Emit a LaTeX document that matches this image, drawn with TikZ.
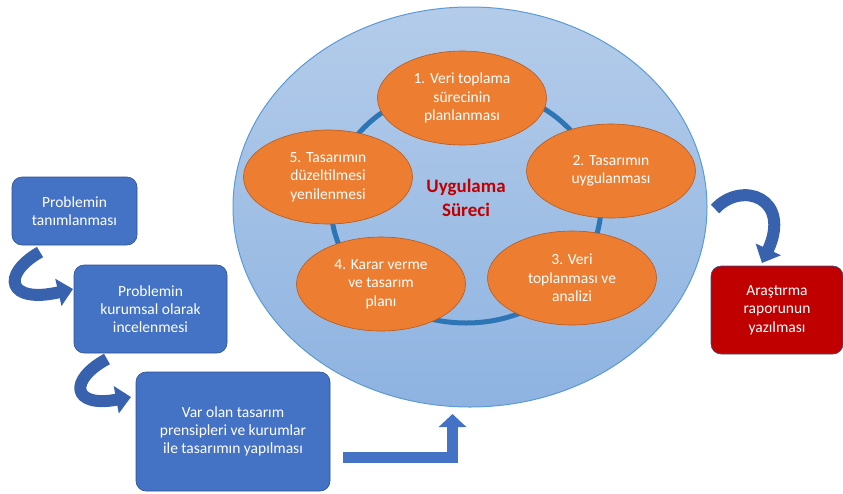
\documentclass[tikz,border=0pt]{standalone}
\usepackage{fontspec}
\setmainfont{Carlito}
\usetikzlibrary{arrows.meta,shapes.geometric,positioning}
\definecolor{boxblue}{HTML}{4472C4}
\definecolor{boxedge}{HTML}{2F528F}
\definecolor{arrblue}{HTML}{3862AE}
\definecolor{ringblue}{HTML}{2E75B6}
\definecolor{circtop}{HTML}{B4CCEA}
\definecolor{circbot}{HTML}{8EB3E1}
\definecolor{circedge}{HTML}{5B9BD5}
\definecolor{stepfill}{HTML}{ED7D31}
\definecolor{stepedge}{HTML}{B85A1C}
\definecolor{reportred}{HTML}{C00000}
\tikzset{
    txt/.style={font=\fontsize{15.5}{18.3}\selectfont, text=white, align=center},
    bluebox/.style={txt, rectangle, rounded corners=10pt, fill=boxblue, draw=boxedge, line width=.6pt},
    redbox/.style={txt, rectangle, rounded corners=10pt, fill=reportred, draw=boxedge, line width=.6pt},
    stepnode/.style={txt, ellipse, inner sep=0pt, minimum width=169pt, minimum height=94pt,
        fill=stepfill, draw=stepedge, line width=.6pt},
    bigcirc/.style={ellipse, inner sep=0pt, minimum width=474pt, minimum height=400pt,
        top color=circtop, bottom color=circbot, draw=circedge, line width=1pt},
    ring/.style={draw=ringblue, line width=5pt},
    curvearrow/.style={draw=arrblue, line width=12pt, -{Triangle[length=15pt,width=27pt]}},
    bentarrow/.style={draw=boxblue, line width=11pt, line join=miter, -{Triangle[length=13pt,width=27pt]}},
}
\begin{document}
\begin{tikzpicture}[x=1pt, y=-1pt]
    \useasboundingbox (0,0) rectangle (843,493);
    % process circle
    \node[bigcirc] (proc) at (470,207) {};
    \draw[ring] (466,205) ellipse (135 and 118);
    \node[font=\fontsize{19}{23.5}\selectfont\bfseries, text=reportred, align=center] (title) at (466,198) {Uygulama\\Süreci};
    \node[stepnode] (s1) at (462,98) {1. Veri toplama\\sürecinin\\planlanması};
    \node[stepnode] (s2) at (611,171) {2. Tasarımın\\uygulanması};
    \node[stepnode] (s3) at (572,278) {3. Veri\\toplanması ve\\analizi};
    \node[stepnode] (s4) at (381,284) {4. Karar verme\\ve tasarım\\planı};
    \node[stepnode] (s5) at (328,177) {5. Tasarımın\\düzeltilmesi\\yenilenmesi};

    % left side
    \node[bluebox, minimum width=125pt, minimum height=68pt] (p1) at (74.5,211) {Problemin\\tanımlanması};
    \node[bluebox, minimum width=153pt, minimum height=88pt] (p2) at (150.5,309) {Problemin\\kurumsal olarak\\incelenmesi};
    \node[bluebox, minimum width=194pt, minimum height=119pt] (p3) at (233,431.5) {Var olan tasarım\\prensipleri ve kurumlar\\ile tasarımın yapılması};
    \node[redbox, minimum width=132pt, minimum height=88pt] (rep) at (777,310) {Araştırma\\raporunun\\yazılması};

    % arrows
    \coordinate (a1s) at (40,252);
    \coordinate (a1e) at (73,289);
    \coordinate (a2s) at (107,359);
    \coordinate (a2e) at (131,397);
    \coordinate (a3s) at (715,209);
    \coordinate (a3e) at (762,263);
    \coordinate (b1s) at (343,457.5);
    \coordinate (b1e) at (452.5,414);
    \draw[curvearrow] (a1s) .. controls (0,275) and (8,304) .. (a1e);
    \draw[curvearrow] (a2s) .. controls (68,380) and (72,408) .. (a2e);
    \draw[curvearrow] (a3s) .. controls (742,180) and (792,198) .. (a3e);
    \draw[bentarrow] (b1s) -- (b1s -| b1e) -- (b1e);
\end{tikzpicture}
\end{document}
